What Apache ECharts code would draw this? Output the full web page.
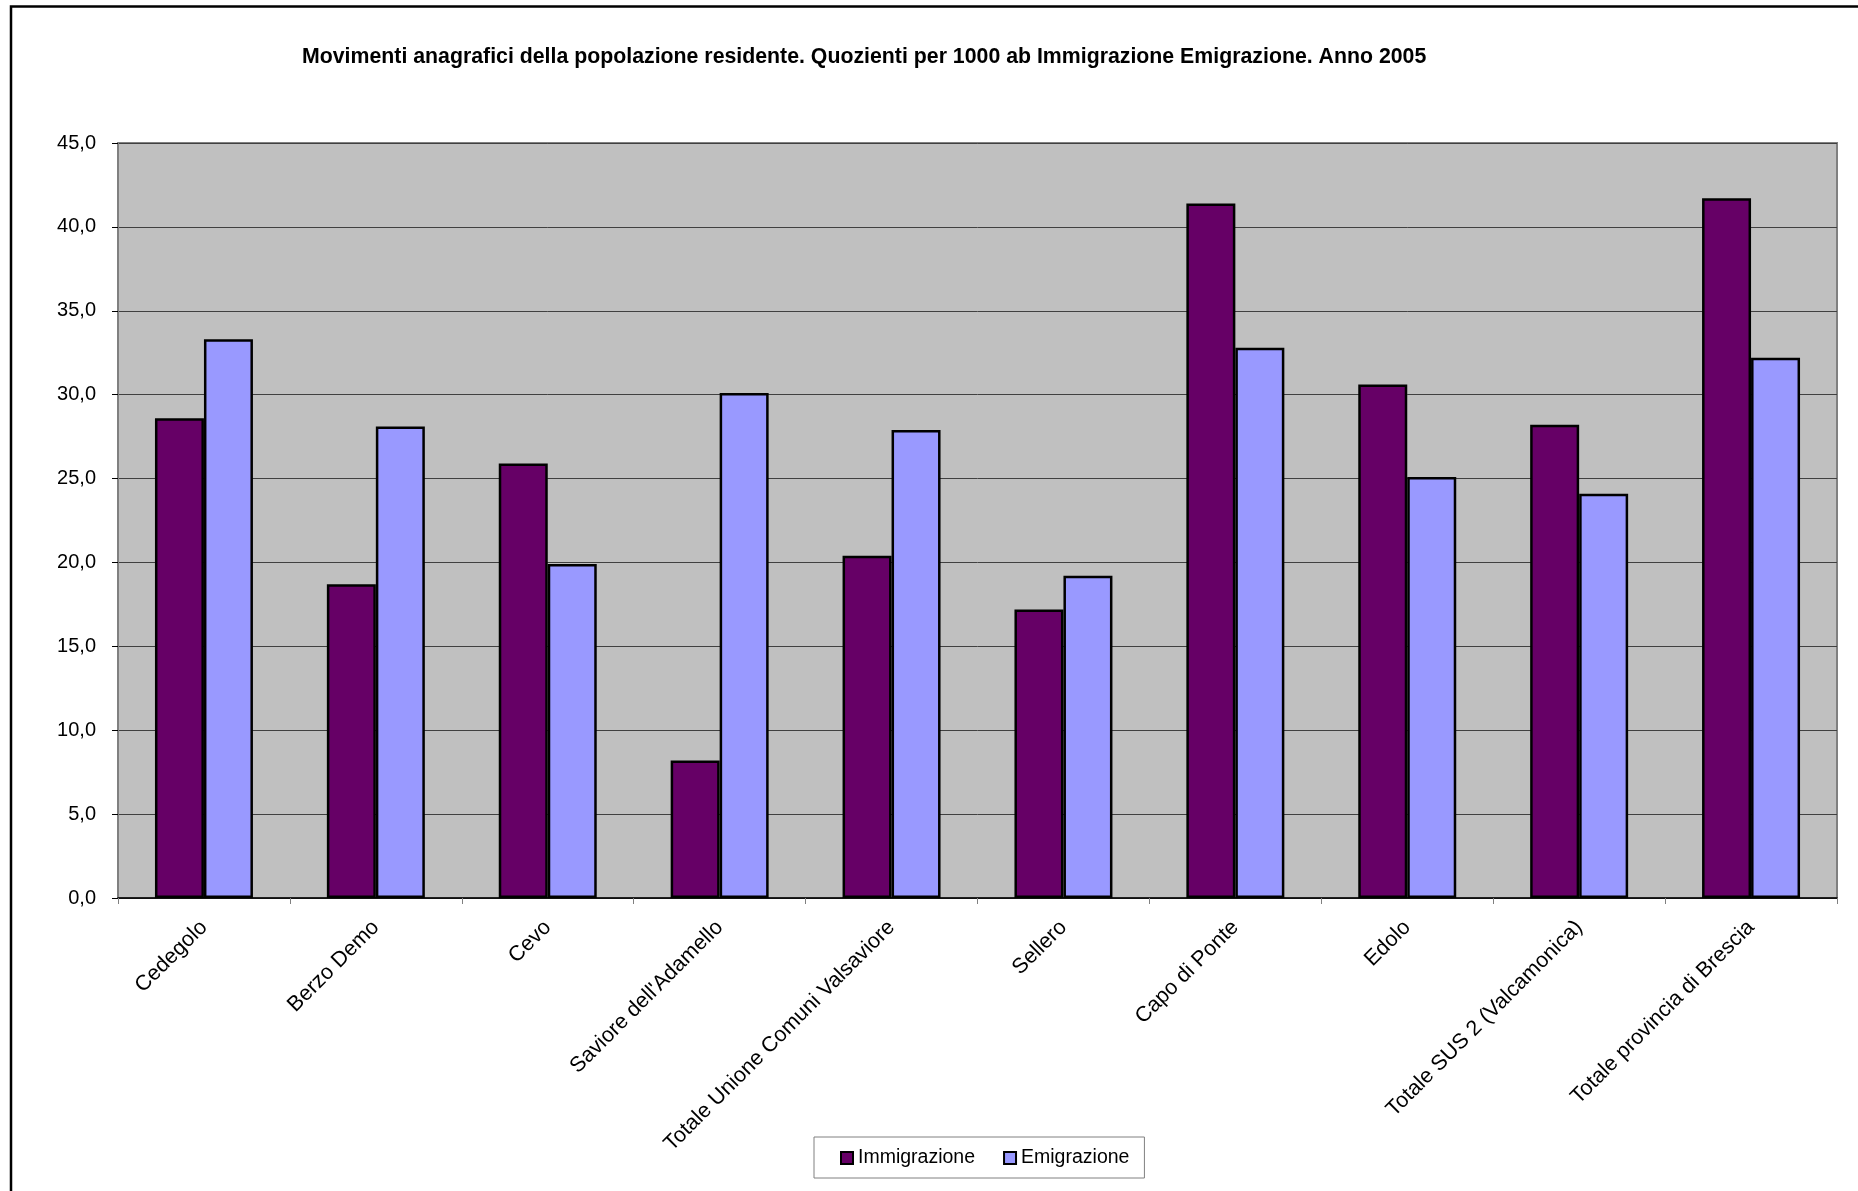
<!DOCTYPE html>
<html>
<head>
<meta charset="utf-8">
<script src="https://cdn.jsdelivr.net/npm/echarts@6/dist/echarts.min.js"></script>
<style>
html,body{margin:0;padding:0;background:#fff;}
#chart{width:1858px;height:1191px;}
</style>
</head>
<body>
<div id="chart"></div>
<script>
const categories = ["Cedegolo","Berzo Demo","Cevo","Saviore dell'Adamello","Totale Unione Comuni Valsaviore","Sellero","Capo di Ponte","Edolo","Totale SUS 2 (Valcamonica)","Totale provincia di Brescia"];
const immigrazione = [28.6, 18.7, 25.9, 8.2, 20.4, 17.2, 41.4, 30.6, 28.2, 41.7];
const emigrazione = [33.3, 28.1, 19.9, 30.1, 27.9, 19.2, 32.8, 25.1, 24.1, 32.2];
const seriesNames = ["Immigrazione", "Emigrazione"];
const titleText = "Movimenti anagrafici della popolazione residente. Quozienti per 1000 ab Immigrazione Emigrazione. Anno 2005";
const yMin = 0, yMax = 45, yStep = 5;

const FONT = "'Liberation Sans', Arial, sans-serif";
const chart = echarts.init(document.getElementById('chart'));
chart.setOption({
  backgroundColor: '#ffffff',
  animation: false,
  title: {
    text: titleText,
    left: 297,
    top: 42,
    textStyle: { fontFamily: FONT, fontSize: 21.3, fontWeight: 'bold', color: '#000' }
  },
  graphic: [{
    type: 'rect', silent: true, z: 100,
    shape: { x: 11, y: 6.5, width: 1900, height: 1300 },
    style: { fill: 'none', stroke: '#000', lineWidth: 2.5 }
  }],
  legend: {
    data: seriesNames,
    left: 814,
    top: 1137,
    orient: 'horizontal',
    icon: 'rect',
    itemWidth: 12,
    itemHeight: 12,
    itemGap: 28,
    padding: [11, 15, 10, 26],
    borderColor: '#808080',
    borderWidth: 1,
    backgroundColor: '#fff',
    textStyle: { fontFamily: FONT, fontSize: 19.5, color: '#000' }
  },
  grid: {
    left: 118, right: 21, top: 143, bottom: 293,
    show: true,
    backgroundColor: '#C0C0C0',
    borderColor: '#808080',
    borderWidth: 2
  },
  xAxis: {
    type: 'category',
    data: categories,
    axisLine: { show: true, lineStyle: { color: '#000', width: 1.5 } },
    axisTick: { show: true, alignWithLabel: false, length: 6, lineStyle: { color: '#808080' } },
    axisLabel: {
      interval: 0, rotate: 45, margin: 26,
      fontFamily: FONT, fontSize: 21.5, color: '#000'
    }
  },
  yAxis: {
    type: 'value',
    min: yMin, max: yMax, interval: yStep,
    axisLine: { show: true, lineStyle: { color: '#808080', width: 2 } },
    axisTick: { show: true, length: 6, lineStyle: { color: '#000' } },
    axisLabel: {
      margin: 22, fontFamily: FONT, fontSize: 20, color: '#000',
      formatter: v => v.toFixed(1).replace('.', ',')
    },
    splitLine: { show: true, lineStyle: { color: '#404040', width: 1 } }
  },
  series: [
    {
      name: seriesNames[0], type: 'bar', data: immigrazione,
      barGap: '0%', barCategoryGap: '43%',
      itemStyle: { color: '#660066', borderColor: '#000', borderWidth: 2.5 }
    },
    {
      name: seriesNames[1], type: 'bar', data: emigrazione,
      barGap: '0%', barCategoryGap: '43%',
      itemStyle: { color: '#9999FF', borderColor: '#000', borderWidth: 2.5 }
    }
  ]
});
</script>
</body>
</html>
